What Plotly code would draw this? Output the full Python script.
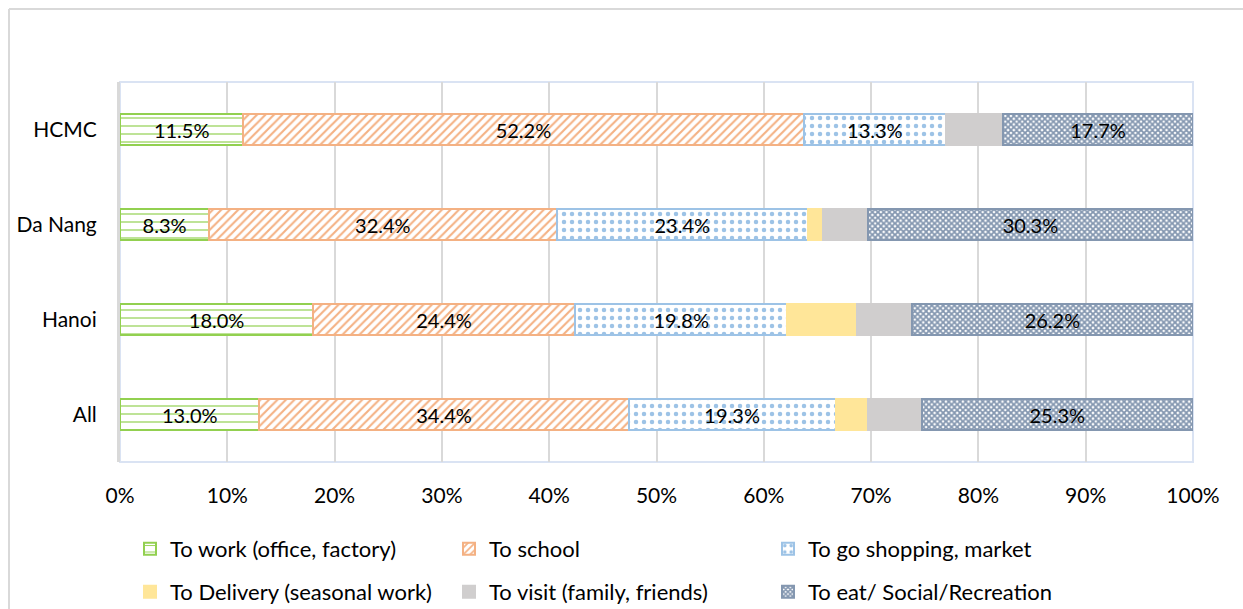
import plotly.graph_objects as go

# Trip purpose shares (%) by city
cities = ["All", "Hanoi", "Da Nang", "HCMC"]
work = [13.0, 18.0, 8.3, 11.5]
school = [34.4, 24.4, 32.4, 52.2]
shopping = [19.3, 19.8, 23.4, 13.3]
delivery = [3.0, 6.5, 1.4, 0.0]
visit = [5.0, 5.1, 4.2, 5.3]
eat = [25.3, 26.2, 30.3, 17.7]

series_names = [
    "To work (office, factory)",
    "To school",
    "To go shopping, market",
    "To Delivery (seasonal work)",
    "To visit (family, friends)",
    "To eat/ Social/Recreation",
]

FONT = "Lato"

styles = [
    dict(values=work, line="#92D050", pattern=dict(shape="-", fgcolor="#92D050", bgcolor="white", size=8, solidity=0.15, fillmode="replace"), label=True, legend="legend"),
    dict(values=school, line="#F4B183", pattern=dict(shape="/", fgcolor="#F4B183", bgcolor="white", size=6, solidity=0.35, fillmode="replace"), label=True, legend="legend"),
    dict(values=shopping, line="#9DC3E6", pattern=dict(shape=".", fgcolor="#9DC3E6", bgcolor="white", size=8, solidity=0.25, fillmode="replace"), label=True, legend="legend"),
    dict(values=delivery, line="#FFE699", color="#FFE699", label=False, legend="legend2"),
    dict(values=visit, line="#D0CECE", color="#D0CECE", label=False, legend="legend2"),
    dict(values=eat, line="#8497B0", pattern=dict(shape="x", fgcolor="#8497B0", bgcolor="white", size=4, solidity=0.7, fillmode="replace"), label=True, legend="legend2"),
]

fig = go.Figure()
for name, st in zip(series_names, styles):
    marker = dict(line=dict(color=st["line"], width=2))
    if "pattern" in st:
        marker["color"] = "white"
        marker["pattern"] = st["pattern"]
    else:
        marker["color"] = st["color"]
    fig.add_trace(go.Bar(
        y=cities,
        x=st["values"],
        name=name,
        orientation="h",
        marker=marker,
        text=[f"{v:.1f}%" for v in st["values"]] if st["label"] else None,
        textposition="inside" if st["label"] else "none",
        insidetextanchor="middle",
        insidetextfont=dict(family=FONT, size=20, color="black"),
        constraintext="none",
        cliponaxis=False,
        legend=st["legend"],
        hoverinfo="x+name",
    ))

W, H = 1243, 609
L, R, T, B = 120, 50, 82, 147
pw = W - L - R
ph = H - T - B

def px_x(x):
    return (x - L) / pw

def px_y(y):
    return (H - B - y) / ph

legend_common = dict(
    orientation="h",
    xref="container", yref="container",
    xanchor="left", yanchor="middle",
    entrywidth=274, entrywidthmode="pixels",
    font=dict(family=FONT, size=22, color="black"),
    itemwidth=30,
    traceorder="normal",
    bgcolor="rgba(0,0,0,0)",
)

fig.update_layout(
    width=W,
    height=H,
    barmode="stack",
    bargap=0.67,
    plot_bgcolor="white",
    paper_bgcolor="white",
    margin=dict(l=L, r=R, t=T, b=B, autoexpand=False),
    font=dict(family=FONT, size=20, color="black"),
    xaxis=dict(
        range=[0, 100],
        tickvals=[0, 10, 20, 30, 40, 50, 60, 70, 80, 90, 100],
        ticktext=[f"{v}%" for v in range(0, 101, 10)],
        showgrid=True,
        gridcolor="#D9D9D9",
        gridwidth=2,
        zeroline=False,
        showline=False,
        ticks="",
        ticklabelstandoff=19,
        tickfont=dict(family=FONT, size=21, color="black"),
        fixedrange=True,
    ),
    yaxis=dict(
        categoryorder="array",
        categoryarray=cities,
        showline=True,
        linecolor="#D9D9D9",
        linewidth=3,
        showgrid=False,
        ticks="",
        ticklabelstandoff=16,
        tickfont=dict(family=FONT, size=21, color="black"),
        fixedrange=True,
    ),
    legend=dict(legend_common, x=130 / W, y=1 - 549 / H),
    legend2=dict(legend_common, x=130 / W, y=1 - 592 / H),
    shapes=[
        # plot-area frame
        dict(type="rect", xref="paper", yref="paper", x0=0, y0=0, x1=1, y1=1,
             line=dict(color="#DAE3F3", width=2), layer="below"),
        # chart-area frame (top and left edges)
        dict(type="line", xref="paper", yref="paper",
             x0=px_x(9), y0=px_y(H + 5), x1=px_x(9), y1=px_y(9),
             line=dict(color="#D9D9D9", width=2)),
        dict(type="line", xref="paper", yref="paper",
             x0=px_x(9), y0=px_y(9), x1=px_x(W + 5), y1=px_y(9),
             line=dict(color="#D9D9D9", width=2)),
    ],
)

fig.write_html("out.html")
